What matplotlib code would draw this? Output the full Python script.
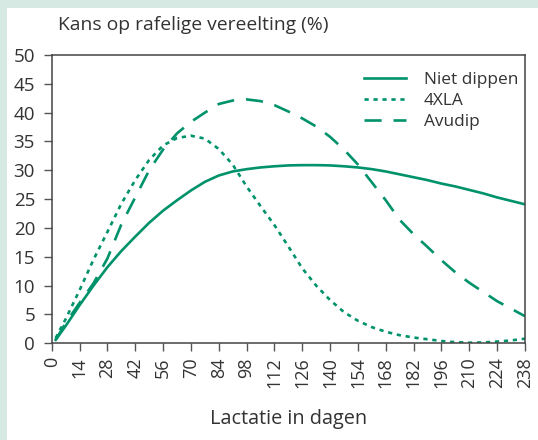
import matplotlib
matplotlib.use("Agg")
import matplotlib.pyplot as plt
from matplotlib.patches import Rectangle

days = [2, 7, 14, 21, 28, 35, 42, 49, 56, 63, 70, 77, 84, 91, 98, 105, 112, 119,
        126, 133, 140, 147, 154, 161, 168, 175, 182, 189, 196, 203, 210, 217,
        224, 231, 238]
niet_dippen = [0.6, 3.0, 6.6, 10.0, 13.2, 16.0, 18.5, 20.9, 23.0, 24.8, 26.5,
               28.0, 29.1, 29.8, 30.2, 30.5, 30.7, 30.85, 30.9, 30.9, 30.85,
               30.7, 30.5, 30.2, 29.8, 29.3, 28.8, 28.3, 27.7, 27.2, 26.6, 26.0,
               25.3, 24.7, 24.1]
xla4 = [0.9, 4.2, 9.2, 14.5, 19.3, 24.2, 28.3, 31.8, 34.3, 35.6, 36.0, 35.5,
        33.7, 31.0, 27.2, 23.8, 20.5, 16.8, 13.0, 10.0, 7.5, 5.4, 3.9, 2.8,
        2.0, 1.4, 1.0, 0.7, 0.4, 0.2, 0.1, 0.15, 0.3, 0.5, 0.8]
avudip = [0.6, 3.5, 7.0, 10.4, 14.7, 20.6, 25.3, 30.0, 33.6, 36.4, 38.4, 40.0,
          41.5, 42.1, 42.3, 42.0, 41.3, 40.2, 39.0, 37.6, 35.8, 33.6, 31.0,
          27.9, 24.8, 21.4, 18.9, 16.7, 14.4, 12.3, 10.5, 8.9, 7.3, 6.0, 4.7]
series_names = ["Niet dippen", "4XLA", "Avudip"]
x_ticks = list(range(0, 239, 14))
y_ticks = list(range(0, 51, 5))

green = "#00926a"
textc = "#333333"
plt.rcParams["font.family"] = ["Open Sans", "DejaVu Sans"]

fig = plt.figure(figsize=(5.38, 4.40), dpi=100)
fig.patch.set_facecolor("#d6e9e2")
fig.patches.append(Rectangle((7 / 538, 0), 1, (440 - 8) / 440,
                             transform=fig.transFigure, facecolor="white",
                             edgecolor="none", zorder=-10))

ax = fig.add_axes([51.7 / 538, (440 - 343.3) / 440,
                   (525 - 51.7) / 538, (343.3 - 55) / 440])
ax.set_facecolor("white")

lw = 1.9
ax.plot(days, niet_dippen, color=green, lw=lw, linestyle="-", label=series_names[0])
ax.plot(days, xla4, color=green, lw=lw, linestyle=(0, (1.6, 1.8)), label=series_names[1])
ax.plot(days, avudip, color=green, lw=lw, linestyle=(0, (6.5, 4.5)), label=series_names[2])

ax.set_xlim(0, 238)
ax.set_ylim(0, 50)
ax.set_xticks(x_ticks)
ax.set_xticklabels([str(t) for t in x_ticks], rotation=90, fontsize=13, color=textc)
ax.set_yticks(y_ticks)
ax.set_yticklabels([str(t) for t in y_ticks], fontsize=13.5, color=textc)
ax.tick_params(axis="both", direction="out", length=6, width=1, color="#555555")
ax.tick_params(axis="y", pad=6)
ax.tick_params(axis="x", pad=4)
for s in ax.spines.values():
    s.set_color("#444444")
    s.set_linewidth(1.1)

ax.set_xlabel("Lactatie in dagen", fontsize=14.3, color=textc, labelpad=15)
fig.text(58 / 538, 1 - 25 / 440, "Kans op rafelige vereelting (%)", fontsize=13.9,
         color=textc, va="center", ha="left")

leg = ax.legend(loc="upper right", frameon=False, fontsize=12.4, handlelength=2.45,
                labelspacing=0.3, handletextpad=1.05, borderaxespad=0.4,
                bbox_to_anchor=(1.015, 0.99))
for t in leg.get_texts():
    t.set_color(textc)

fig.savefig("out.png", dpi=100, facecolor=fig.get_facecolor())
